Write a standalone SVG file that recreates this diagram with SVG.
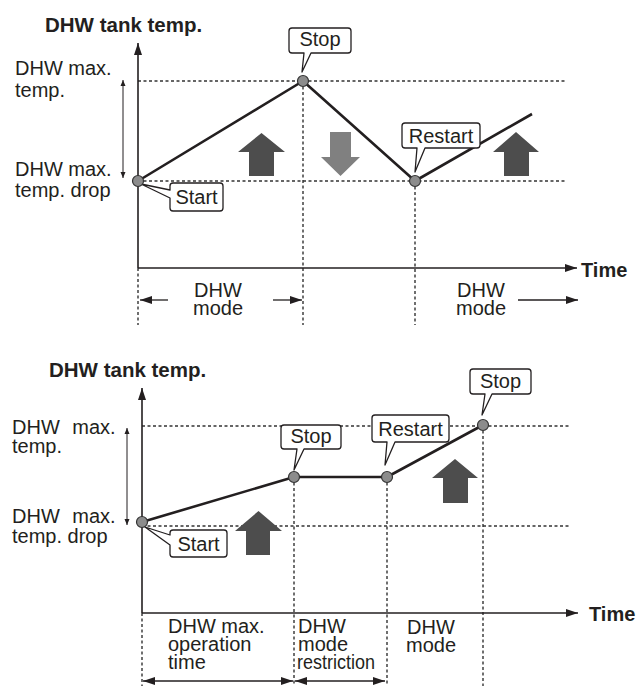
<svg xmlns="http://www.w3.org/2000/svg" width="638" height="686" viewBox="0 0 638 686">
<defs>
<style>
.t{font-family:"Liberation Sans",Arial,sans-serif;font-size:20px;fill:#231f20}
.b{font-weight:bold}
.m{text-anchor:middle}
.ax{stroke:#231f20;stroke-width:1.6;fill:none}
.dot{stroke:#333;stroke-width:1.4;stroke-dasharray:3 2.5;fill:none}
.crv{stroke:#231f20;stroke-width:2.6;fill:none;stroke-linejoin:round}
.thin{stroke:#231f20;stroke-width:1.3;fill:none}
.hair{stroke:#231f20;stroke-width:1;fill:none}
.pt{fill:#8c8c8c;stroke:#333;stroke-width:1.2}
.co{fill:#fff;stroke:#231f20;stroke-width:1.3;stroke-linejoin:round}
.up{fill:#4d4d4d}
.dn{fill:#808080}
</style>
<marker id="ah" viewBox="0 0 12 8" refX="12" refY="4" markerWidth="12" markerHeight="8" markerUnits="userSpaceOnUse" orient="auto-start-reverse"><path d="M0,0 L12,4 L0,8 Z" fill="#231f20"/></marker>
<marker id="ahs" viewBox="0 0 6 6" refX="6" refY="3" markerWidth="6" markerHeight="6" markerUnits="userSpaceOnUse" orient="auto-start-reverse"><path d="M0,0.5 L6,3 L0,5.5 Z" fill="#231f20"/></marker>
</defs>

<g id="connectors">
<!-- top chart -->
<line class="dot" x1="138" y1="81" x2="567" y2="81"/>
<line class="dot" x1="138" y1="181" x2="567" y2="181"/>
<line class="dot" x1="303" y1="81" x2="303" y2="325"/>
<line class="dot" x1="415" y1="181" x2="415" y2="325"/>
<line class="dot" x1="138" y1="268" x2="138" y2="325"/>
<line class="ax" x1="138" y1="268" x2="138" y2="43" marker-end="url(#ah)"/>
<line class="ax" x1="138" y1="268" x2="577" y2="268" marker-end="url(#ah)"/>
<line class="hair" x1="123" y1="80" x2="123" y2="178" marker-start="url(#ahs)" marker-end="url(#ahs)"/>
<polyline class="crv" points="138,181 303,81 415,181 532,114"/>
<line class="thin" x1="168" y1="300" x2="140" y2="300" marker-end="url(#ah)"/>
<line class="thin" x1="273" y1="300" x2="302" y2="300" marker-end="url(#ah)"/>
<line class="thin" x1="518" y1="300" x2="578" y2="300" marker-end="url(#ah)"/>
<!-- bottom chart -->
<line class="dot" x1="142" y1="426" x2="569" y2="426"/>
<line class="dot" x1="142" y1="526" x2="569" y2="526"/>
<line class="dot" x1="294" y1="477" x2="294" y2="686"/>
<line class="dot" x1="387" y1="477" x2="387" y2="686"/>
<line class="dot" x1="483" y1="425" x2="483" y2="686"/>
<line class="dot" x1="142" y1="613" x2="142" y2="686"/>
<line class="ax" x1="142" y1="613" x2="142" y2="388" marker-end="url(#ah)"/>
<line class="ax" x1="142" y1="613" x2="578" y2="613" marker-end="url(#ah)"/>
<line class="hair" x1="127" y1="428" x2="127" y2="525" marker-start="url(#ahs)" marker-end="url(#ahs)"/>
<polyline class="crv" points="142,522 294,477 387,477 483,425"/>
<line class="thin" x1="143" y1="681" x2="293" y2="681" marker-start="url(#ah)" marker-end="url(#ah)"/>
<line class="thin" x1="295" y1="681" x2="385" y2="681" marker-start="url(#ah)" marker-end="url(#ah)"/>
</g>

<g id="top-title"><text class="t b" x="45" y="32" style="font-size:20.5px">DHW tank temp.</text></g>
<g id="top-time"><text class="t b" x="581" y="277">Time</text></g>
<g id="top-max-label"><text class="t" x="15" y="75">DHW max.</text><text class="t" x="15" y="97">temp.</text></g>
<g id="top-drop-label"><text class="t" x="15" y="176">DHW max.</text><text class="t" x="15" y="197">temp. drop</text></g>
<g id="top-mode1"><text class="t m" x="218" y="297">DHW</text><text class="t m" x="218" y="315">mode</text></g>
<g id="top-mode2"><text class="t m" x="481" y="297">DHW</text><text class="t m" x="481" y="315">mode</text></g>

<g id="top-arrow-up1"><path class="up" d="M261.5,133 L285,152 L274,152 L274,176 L249,176 L249,152 L238,152 Z"/></g>
<g id="top-arrow-down"><path class="dn" d="M330,132 L351,132 L351,157 L360,157 L340.5,176 L321,157 L330,157 Z"/></g>
<g id="top-arrow-up2"><path class="up" d="M516,132 L539,152 L529,152 L529,176 L504,176 L504,152 L493,152 Z"/></g>

<g id="top-start">
<path class="co" d="M173,183 H220 Q223,183 223,186 V208 Q223,211 220,211 H173 Q170,211 170,208 V198 L141,184 L170,190 V186 Q170,183 173,183 Z"/>
<text class="t m" x="196.5" y="204">Start</text>
<circle class="pt" cx="138" cy="181" r="5.5"/>
</g>
<g id="top-stop">
<path class="co" d="M292,28 H348 Q351,28 351,31 V50 Q351,53 348,53 H311 L302,72 L304,53 H292 Q289,53 289,50 V31 Q289,28 292,28 Z"/>
<text class="t m" x="320" y="46">Stop</text>
<circle class="pt" cx="303" cy="81" r="5.5"/>
</g>
<g id="top-restart">
<path class="co" d="M405,123 H477 Q480,123 480,126 V145 Q480,148 477,148 H425 L415,172 L417,148 H405 Q402,148 402,145 V126 Q402,123 405,123 Z"/>
<text class="t m" x="441" y="143">Restart</text>
<circle class="pt" cx="415" cy="181" r="5.5"/>
</g>

<g id="bot-title"><text class="t b" x="49" y="377" style="font-size:20.5px">DHW tank temp.</text></g>
<g id="bot-time"><text class="t b" x="589" y="621">Time</text></g>
<g id="bot-max-label"><text class="t" x="12" y="434" word-spacing="7">DHW max.</text><text class="t" x="12" y="453">temp.</text></g>
<g id="bot-drop-label"><text class="t" x="12" y="523" word-spacing="7">DHW max.</text><text class="t" x="12" y="543">temp. drop</text></g>
<g id="bot-op-time"><text class="t" x="168" y="633">DHW max.</text><text class="t" x="168" y="651">operation</text><text class="t" x="168" y="669">time</text></g>
<g id="bot-restriction"><text class="t" x="298" y="633">DHW</text><text class="t" x="298" y="651">mode</text><text class="t" x="297" y="669" textLength="78" lengthAdjust="spacingAndGlyphs">restriction</text></g>
<g id="bot-mode"><text class="t m" x="431" y="634">DHW</text><text class="t m" x="431" y="652">mode</text></g>

<g id="bot-arrow-up1"><path class="up" d="M258.5,511 L282,531 L270,531 L270,555 L246,555 L246,531 L235,531 Z"/></g>
<g id="bot-arrow-up2"><path class="up" d="M455,459 L478,478 L468,478 L468,503 L443,503 L443,478 L432,478 Z"/></g>

<g id="bot-start">
<path class="co" d="M173,530 H224 Q227,530 227,533 V554 Q227,557 224,557 H173 Q170,557 170,554 V545 L145,527 L170,535 V533 Q170,530 173,530 Z"/>
<text class="t m" x="198.5" y="551">Start</text>
<circle class="pt" cx="142" cy="522" r="5.5"/>
</g>
<g id="bot-stop1">
<path class="co" d="M284,425 H338 Q341,425 341,428 V446 Q341,449 338,449 H304 L294,470 L297,449 H284 Q281,449 281,446 V428 Q281,425 284,425 Z"/>
<text class="t m" x="311" y="443">Stop</text>
<circle class="pt" cx="294" cy="477" r="5.5"/>
</g>
<g id="bot-restart">
<path class="co" d="M375,415 H446 Q449,415 449,418 V439 Q449,442 446,442 H395 L385,465 L387,442 H375 Q372,442 372,439 V418 Q372,415 375,415 Z"/>
<text class="t m" x="410.5" y="436">Restart</text>
<circle class="pt" cx="387" cy="477" r="5.5"/>
</g>
<g id="bot-stop2">
<path class="co" d="M473,369 H528 Q531,369 531,372 V391 Q531,394 528,394 H492 L482,415 L485,394 H473 Q470,394 470,391 V372 Q470,369 473,369 Z"/>
<text class="t m" x="500.5" y="388">Stop</text>
<circle class="pt" cx="483" cy="425" r="5.5"/>
</g>
</svg>
